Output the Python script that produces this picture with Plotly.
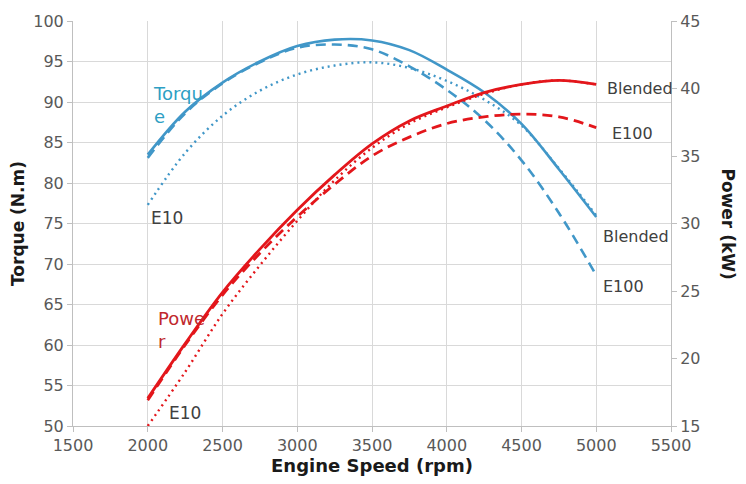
import plotly.graph_objects as go

rpm = [2000, 2250, 2500, 2750, 3000, 3250, 3500, 3750, 4000, 4250, 4500, 4750, 5000]

torque_blended = [83.5, 88.8, 92.4, 95.0, 96.9, 97.7, 97.6, 96.4, 94.0, 91.2, 87.3, 81.7, 75.8]
torque_e100 = [83.1, 88.6, 92.3, 94.9, 96.7, 97.1, 96.5, 94.4, 91.5, 87.8, 82.8, 76.3, 68.6]
torque_e10 = [77.3, 83.7, 88.3, 91.4, 93.4, 94.5, 94.9, 94.2, 92.6, 90.3, 87.1, 81.8, 76.0]

power_blended = [17.05, 21.1, 24.9, 28.1, 31.0, 33.6, 35.9, 37.6, 38.7, 39.7, 40.3, 40.6, 40.3]
power_e100 = [16.9, 21.0, 24.7, 27.8, 30.5, 32.9, 35.0, 36.4, 37.4, 37.9, 38.1, 37.9, 37.1]
power_e10 = [15.0, 19.0, 23.3, 26.9, 30.2, 33.2, 35.6, 37.4, 38.6, 39.6, 40.3, 40.6, 40.3]

x_ticks = [1500, 2000, 2500, 3000, 3500, 4000, 4500, 5000, 5500]
y_ticks = [50, 55, 60, 65, 70, 75, 80, 85, 90, 95, 100]
y2_ticks = [15, 20, 25, 30, 35, 40, 45]

BLUE = "#4197C8"
RED = "#E3161B"
FONT = "DejaVu Sans"

fig = go.Figure()

def add(y, color, dash, width, axis):
    fig.add_trace(go.Scatter(
        x=rpm, y=y, mode="lines", yaxis=axis,
        line=dict(color=color, dash=dash, width=width, shape="spline", smoothing=1.0),
        showlegend=False, hoverinfo="skip"))

add(torque_e10, BLUE, "2px,4px", 2.4, "y")
add(torque_e100, BLUE, "10px,6px", 2.6, "y")
add(torque_blended, BLUE, "solid", 2.6, "y")
add(power_e10, RED, "2px,4px", 2.4, "y2")
add(power_e100, RED, "10px,6px", 2.8, "y2")
add(power_blended, RED, "solid", 2.8, "y2")

tickfont = dict(family=FONT, size=16, color="#595959")
titlefont = dict(family=FONT, size=17, color="#1a1a1a")

fig.update_layout(
    width=746, height=484,
    margin=dict(l=73, r=75, t=16, b=58),
    paper_bgcolor="white", plot_bgcolor="white",
    xaxis=dict(
        range=[1500, 5500], tickvals=x_ticks, ticktext=[str(v) for v in x_ticks],
        showgrid=True, gridcolor="#d9d9d9", gridwidth=1,
        showline=True, linecolor="#bfbfbf", linewidth=1,
        ticks="outside", ticklen=5, tickcolor="#bfbfbf",
        tickfont=tickfont, zeroline=False,
        title=dict(text="<b>Engine Speed (rpm)</b>", font=dict(family=FONT, size=18, color="#1a1a1a"), standoff=2),
    ),
    yaxis=dict(
        range=[50, 100], tickvals=y_ticks, ticktext=[str(v) for v in y_ticks],
        showgrid=True, gridcolor="#d9d9d9", gridwidth=1,
        showline=True, linecolor="#bfbfbf", linewidth=1,
        ticks="outside", ticklen=5, tickcolor="#bfbfbf",
        tickfont=tickfont, zeroline=False,
        title=dict(text="<b>Torque (N.m)</b>", font=titlefont, standoff=4),
    ),
    yaxis2=dict(
        range=[15, 45], tickvals=y2_ticks, ticktext=[str(v) for v in y2_ticks],
        overlaying="y", side="right", showgrid=False,
        showline=True, linecolor="#bfbfbf", linewidth=1,
        ticks="outside", ticklen=5, tickcolor="#bfbfbf",
        tickfont=tickfont, zeroline=False,
    ),
)

lab = dict(family=FONT, size=16, color="#404040")
annos = [
    dict(x=2025, y=89.6, text="Torqu<br>e", font=dict(family=FONT, size=18, color="#2E9FC4")),
    dict(x=2058, y=61.8, text="Powe<br>r", font=dict(family=FONT, size=18, color="#C0282D")),
    dict(x=2010, y=75.7, text="E10", font=dict(family=FONT, size=17, color="#404040")),
    dict(x=2130, y=51.6, text="E10", font=dict(family=FONT, size=17, color="#404040")),
    dict(x=5059, y=91.7, text="Blended", font=lab),
    dict(x=5092, y=86.1, text="E100", font=lab),
    dict(x=5032, y=73.4, text="Blended", font=lab),
    dict(x=5032, y=67.2, text="E100", font=lab),
]
for a in annos:
    fig.add_annotation(xref="x", yref="y", xanchor="left", yanchor="middle",
                       showarrow=False, align="left", **a)

fig.add_annotation(xref="paper", yref="paper", x=1.0, y=0.5, xshift=57,
                   text="<b>Power (kW)</b>", textangle=90, showarrow=False,
                   font=titlefont, xanchor="center", yanchor="middle")

fig.write_html("out.html")
